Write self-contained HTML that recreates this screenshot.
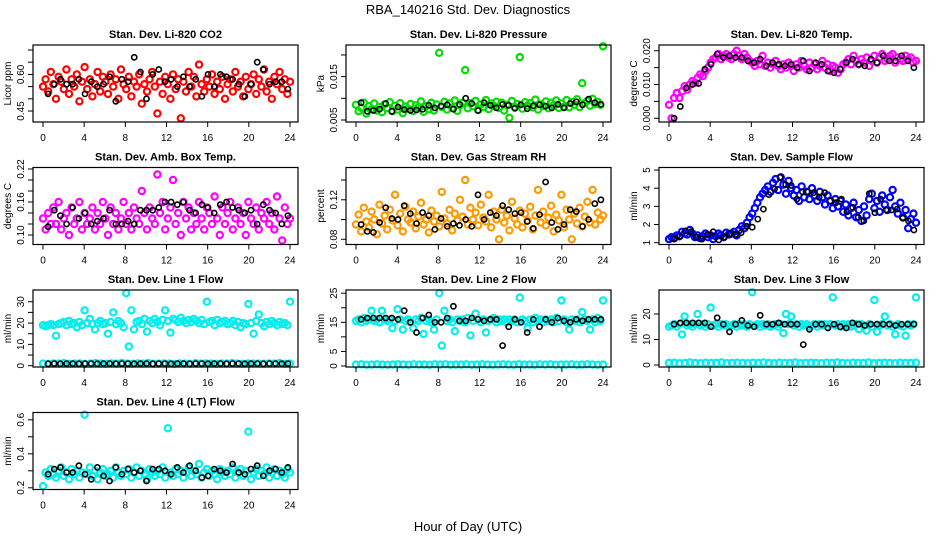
<!DOCTYPE html>
<html><head><meta charset="utf-8"><style>
html,body{margin:0;padding:0;background:#fff;}
svg{display:block;font-family:"Liberation Sans",Arial,sans-serif;}
</style></head><body>
<svg id="chart" width="936" height="540" viewBox="0 0 936 540" xmlns="http://www.w3.org/2000/svg">
<rect width="936" height="540" fill="#fff"/>
<text x="468" y="14" text-anchor="middle" font-size="13">RBA_140216  Std. Dev. Diagnostics</text>
<text x="468" y="531" text-anchor="middle" font-size="13">Hour of Day (UTC)</text>
</svg>
<script>
const xTicks=[0,4,8,12,16,20,24];
const co2Color=[0.55,0.58,0.53,0.61,0.56,0.50,0.59,0.57,0.54,0.62,0.52,0.58,0.55,0.60,0.49,0.57,0.63,0.54,0.58,0.51,0.56,0.61,0.53,0.59,0.57,0.52,0.60,0.55,0.58,0.50,0.62,0.56,0.54,0.59,0.51,0.57,0.55,0.60,0.48,0.56,0.53,0.58,0.61,0.55,0.44,0.57,0.52,0.59,0.56,0.50,0.60,0.54,0.58,0.42,0.57,0.53,0.61,0.55,0.59,0.51,0.64,0.56,0.53,0.58,0.55,0.60,0.52,0.57,0.54,0.59,0.50,0.56,0.58,0.53,0.61,0.55,0.57,0.51,0.59,0.54,0.56,0.60,0.52,0.58,0.55,0.62,0.53,0.57,0.50,0.59,0.56,0.61,0.54,0.58,0.52,0.57];
const co2Black=[0.52,0.56,0.58,0.56,0.56,0.58,0.52,0.57,0.55,0.56,0.59,0.49,0.58,0.57,0.67,0.61,0.50,0.60,0.62,0.57,0.58,0.55,0.59,0.55,0.58,0.51,0.60,0.55,0.60,0.59,0.58,0.56,0.51,0.56,0.65,0.62,0.56,0.57,0.57,0.54];
const presColor=[0.0085,0.0070,0.0078,0.0090,0.0065,0.0082,0.0075,0.0088,0.0072,0.0080,0.0068,0.0086,0.0077,0.0091,0.0070,0.0083,0.0074,0.0089,0.0066,0.0081,0.0076,0.0087,0.0071,0.0084,0.0079,0.0093,0.0069,0.0082,0.0075,0.0090,0.0072,0.0086,0.0205,0.0080,0.0092,0.0074,0.0088,0.0078,0.0095,0.0071,0.0084,0.0090,0.0165,0.0077,0.0089,0.0082,0.0094,0.0073,0.0086,0.0080,0.0096,0.0075,0.0088,0.0083,0.0092,0.0078,0.0090,0.0072,0.0085,0.0055,0.0094,0.0080,0.0087,0.0195,0.0076,0.0091,0.0083,0.0089,0.0079,0.0097,0.0074,0.0086,0.0082,0.0093,0.0077,0.0090,0.0084,0.0095,0.0078,0.0088,0.0081,0.0096,0.0079,0.0091,0.0085,0.0098,0.0080,0.0135,0.0089,0.0094,0.0083,0.0099,0.0087,0.0092,0.0085,0.0220];
const presBlack=[0.0090,0.0070,0.0072,0.0075,0.0088,0.0070,0.0080,0.0074,0.0072,0.0073,0.0075,0.0084,0.0078,0.0082,0.0085,0.0075,0.0086,0.0100,0.0088,0.0072,0.0090,0.0084,0.0078,0.0086,0.0084,0.0077,0.0085,0.0076,0.0083,0.0085,0.0082,0.0078,0.0086,0.0078,0.0088,0.0092,0.0085,0.0098,0.0090,0.0086];
const ltColor=[0.004,0.000,0.006,0.0075,0.006,0.008,0.0095,0.0085,0.010,0.011,0.0105,0.012,0.013,0.0125,0.014,0.015,0.0165,0.0175,0.018,0.019,0.0175,0.0185,0.019,0.018,0.0175,0.019,0.020,0.0185,0.0175,0.019,0.018,0.017,0.0165,0.0155,0.017,0.016,0.0185,0.0155,0.0165,0.015,0.016,0.017,0.0155,0.0145,0.016,0.015,0.0165,0.0155,0.0140,0.0160,0.0150,0.0170,0.0155,0.0145,0.0165,0.0150,0.016,0.0145,0.0155,0.017,0.0150,0.0160,0.0140,0.0155,0.015,0.0135,0.0145,0.016,0.0165,0.0175,0.016,0.0185,0.017,0.0160,0.0175,0.0165,0.018,0.0155,0.017,0.0185,0.0165,0.018,0.019,0.017,0.0175,0.0185,0.019,0.0165,0.018,0.0175,0.017,0.0185,0.0175,0.018,0.0165,0.017];
const ltBlack=[0.000,0.0035,0.009,0.010,0.0103,0.0145,0.016,0.019,0.018,0.0185,0.018,0.018,0.017,0.0165,0.0175,0.0155,0.0165,0.016,0.0155,0.016,0.015,0.017,0.0140,0.0165,0.016,0.0140,0.0135,0.0145,0.0165,0.0175,0.016,0.0155,0.0175,0.0165,0.0185,0.017,0.017,0.0185,0.0170,0.0150];
const boxColor=[0.13,0.11,0.14,0.12,0.15,0.12,0.16,0.11,0.13,0.14,0.10,0.15,0.12,0.13,0.16,0.11,0.14,0.12,0.13,0.15,0.11,0.14,0.12,0.16,0.13,0.10,0.15,0.12,0.14,0.11,0.13,0.16,0.12,0.14,0.11,0.15,0.13,0.12,0.18,0.14,0.11,0.15,0.13,0.12,0.21,0.14,0.16,0.11,0.13,0.15,0.20,0.12,0.14,0.10,0.16,0.13,0.15,0.11,0.14,0.12,0.16,0.13,0.11,0.15,0.14,0.12,0.17,0.13,0.10,0.15,0.12,0.14,0.16,0.11,0.13,0.15,0.12,0.14,0.10,0.16,0.13,0.12,0.15,0.11,0.14,0.13,0.16,0.12,0.14,0.11,0.17,0.13,0.09,0.15,0.12,0.13];
const boxBlack=[0.115,0.145,0.135,0.12,0.15,0.13,0.14,0.12,0.125,0.13,0.145,0.12,0.12,0.125,0.12,0.145,0.145,0.145,0.15,0.16,0.16,0.155,0.16,0.145,0.14,0.155,0.15,0.14,0.155,0.16,0.15,0.145,0.14,0.145,0.12,0.155,0.145,0.14,0.12,0.135];
const rhColor=[0.095,0.105,0.088,0.112,0.098,0.092,0.108,0.100,0.085,0.115,0.096,0.104,0.090,0.110,0.099,0.125,0.094,0.106,0.088,0.113,0.100,0.097,0.108,0.091,0.103,0.117,0.095,0.100,0.087,0.109,0.098,0.104,0.093,0.128,0.101,0.096,0.110,0.089,0.106,0.099,0.120,0.103,0.140,0.095,0.112,0.100,0.107,0.094,0.115,0.102,0.098,0.125,0.092,0.108,0.100,0.080,0.110,0.097,0.104,0.089,0.118,0.101,0.095,0.109,0.092,0.106,0.099,0.113,0.090,0.104,0.130,0.097,0.108,0.094,0.102,0.114,0.088,0.105,0.099,0.125,0.092,0.110,0.100,0.080,0.106,0.096,0.112,0.093,0.103,0.118,0.097,0.130,0.095,0.107,0.100,0.104];
const rhBlack=[0.095,0.088,0.087,0.097,0.112,0.101,0.100,0.114,0.106,0.096,0.107,0.104,0.090,0.101,0.093,0.096,0.094,0.100,0.093,0.125,0.100,0.107,0.104,0.114,0.110,0.106,0.107,0.098,0.091,0.105,0.138,0.097,0.090,0.095,0.110,0.108,0.093,0.100,0.116,0.120];
const flowColor=[1.2,1.3,1.25,1.4,1.35,1.6,1.5,1.45,1.7,1.5,1.3,1.4,1.25,1.35,1.5,1.3,1.4,1.2,1.35,1.5,1.4,1.3,1.55,1.45,1.5,1.6,1.4,1.7,1.9,1.8,2.1,2.4,2.6,2.9,3.2,3.5,3.7,3.9,4.1,3.8,4.3,4.5,3.9,4.6,4.2,3.7,4.4,4.0,3.6,3.9,3.3,4.1,3.5,3.8,3.4,4.0,3.6,3.3,3.8,3.5,3.1,3.6,3.3,2.9,3.4,3.0,3.3,2.7,3.1,2.5,2.9,3.2,2.4,2.8,2.2,3.0,2.5,3.4,3.7,2.9,3.3,2.7,3.6,3.1,2.8,3.5,3.9,3.0,2.6,3.2,2.4,2.8,1.8,2.3,2.6,2.1];
const flowBlack=[1.2,1.35,1.65,1.6,1.3,1.2,1.45,1.6,1.15,1.3,1.5,1.45,1.55,1.9,1.85,2.3,2.85,3.65,3.95,4.6,4.2,4.15,3.4,3.8,3.8,3.75,3.5,3.75,3.3,3.2,3.4,2.7,2.95,2.4,2.2,3.7,2.65,3.4,2.8,2.8,2.85,2.35,2.2,1.7];
const line1Color=[19,18.5,19,19.5,19,14,19.5,20,20.5,19,21,19.5,20,18,20.5,19,26,20,22,19.5,17,20,21,19.5,20,15,20.5,25,19.5,21,20,18,34,9,26,17,20.5,21,19.5,22,16,21,20,22,20.5,19,21.5,26,21,15.5,22,21.5,20.5,22.5,21,20,21.5,20.5,22,21,20,21.5,19.5,30,20.5,21,19,21.5,20,20.5,21,19.5,20,21,19,20.5,18,20,19.5,29,20,15,21,24,20,18.5,20.5,19.5,21,20,19,20.5,19.5,20,19,30];
const line1Low=[1,0.9,1.1,1,1.2,0.9,1,1.1,0.8,1,1.2,1,0.9,1.1,1,1.3,1,0.9,1.1,1,1.2,0.9,1,1.1,1,0.8,1.1,1,0.9,1.2,1,1.1,1,0.9,1.1,1,1.2,1,0.9,1.1,1,1,0.9,1.1,1,1.2,0.9,1];
const line1Black=[0.9,1,0.9,1,1,0.9,1,1,0.9,1,1,0.9,1,1,0.9,1,1,0.9,1,1,0.9,1,1,0.9,1,1,0.9,1,1,0.9,1,1,0.9,1,1,0.9,1,1,0.9,1];
const line2Color=[15.5,16,15,16.5,15.5,16,19,15.5,16,15,19,16,15.5,16,13,15.5,19.5,16,12.5,15.5,16,15,13,16,15.5,16.5,11,15.5,16,15,12.5,16,25,7,19,15.5,16,15,12,16,15.5,16,15,16.5,10.5,15.5,18,16,15,16,11.5,15.5,16,16.5,15,16,15.5,16,15,16,15.5,16,15,23.5,16,15.5,13,16,15,16.5,15.5,16,15,16,15.5,16,15,16.5,15.5,22.5,16,15,12.5,16,15.5,16,15,18.5,16,15.5,12.5,16,15,16.5,15.5,22.5];
const line2Low=[0.5,0.6,0.4,0.5,0.6,0.5,0.4,0.5,0.6,0.5,0.4,0.6,0.5,0.5,0.4,0.6,0.5,0.6,0.4,0.5,0.5,0.6,0.4,0.5,0.6,0.5,0.4,0.5,0.6,0.5,0.4,0.6,0.5,0.5,0.4,0.6,0.5,0.6,0.4,0.5,0.5,0.6,0.4,0.5,0.6,0.5,0.4,0.5];
const line2Black=[16,16.5,16.5,16.5,16.5,16.5,16,19,15,11.5,16.5,17.5,15,15,16.5,20.5,15.5,15.5,16.5,16,15.5,16,16,7,13.5,16,15,11.5,16,13.5,16,15,16.5,15.5,15,16,15.5,16,16,16];
const line3Color=[15,15.5,16,15,16,12,19,15.5,16,15,16,20,15.5,16,15,16,22.5,15.5,16,15,16,15.5,16,15,15.5,16,15,16,15.5,16,15,16,28.5,15.5,16,15,16,15.5,16,15,15.5,16,15,16,12.5,20,16,19,15.5,16,15,16,15.5,16,15,15.5,16,15,16,15.5,16,15,16,26.5,15.5,16,15,16,15.5,16,15,15.5,16,14,16,15.5,13.5,16,15,25.5,13,15.5,16,19,15.5,16,15,12,16,15.5,15,11.5,16,15.5,16,26.5];
const line3Low=[0.8,0.9,0.7,0.8,1,0.8,0.7,0.9,0.8,0.8,1,0.7,0.8,0.9,0.8,0.7,0.9,0.8,1,0.8,0.7,0.9,0.8,0.8,1,0.7,0.8,0.9,0.8,0.7,0.9,0.8,1,0.8,0.7,0.9,0.8,0.8,1,0.7,0.8,0.9,0.8,0.7,0.9,0.8,0.8,0.9];
const line3Black=[16,16.5,16.5,16.5,16.5,16.5,15,18.5,16,13,16,17.5,15.5,15,19.5,16,16,16.5,16,16,16,8,14,16,16,14.5,16,15,14.5,16.5,16,15.5,16,16,16,16,15.5,16,16,16];
const line4Color=[0.21,0.29,0.27,0.31,0.28,0.26,0.30,0.32,0.27,0.29,0.25,0.31,0.28,0.30,0.26,0.29,0.63,0.28,0.32,0.27,0.30,0.25,0.29,0.31,0.27,0.28,0.30,0.26,0.32,0.29,0.27,0.30,0.28,0.31,0.26,0.29,0.32,0.27,0.30,0.28,0.25,0.31,0.29,0.27,0.30,0.28,0.32,0.26,0.55,0.29,0.27,0.31,0.28,0.30,0.26,0.29,0.32,0.27,0.30,0.28,0.34,0.26,0.29,0.31,0.27,0.30,0.28,0.25,0.31,0.29,0.27,0.30,0.28,0.32,0.26,0.29,0.31,0.27,0.30,0.53,0.25,0.29,0.31,0.27,0.30,0.28,0.32,0.26,0.29,0.31,0.27,0.30,0.28,0.26,0.31,0.29];
const line4Black=[0.28,0.31,0.32,0.29,0.29,0.33,0.28,0.25,0.32,0.27,0.24,0.32,0.28,0.31,0.29,0.30,0.24,0.31,0.31,0.30,0.28,0.32,0.29,0.33,0.30,0.26,0.27,0.31,0.30,0.29,0.34,0.29,0.28,0.31,0.33,0.27,0.30,0.31,0.29,0.32];

const panels=[
 {name:'co2',title:'Stan. Dev. Li-820 CO2',ylab:'Licor ppm',col:0,row:0,lo:0.405,hi:0.7205,ticks:[0.45,0.5,0.55,0.6,0.65,0.7],labels:['0.45','','','0.60','',''],series:[[co2Color,'#ff0000',0,24],[co2Black,'#000',0.5,23.8]]},
 {name:'pressure',title:'Stan. Dev. Li-820 Pressure',ylab:'kPa',col:1,row:0,lo:0.00454,hi:0.0223,ticks:[0.005,0.01,0.015,0.02],labels:['0.005','','0.015',''],series:[[presColor,'#00dd00',0,24],[presBlack,'#000',0.5,23.8]]},
 {name:'li820-temp',title:'Stan. Dev. Li-820 Temp.',ylab:'degrees C',col:2,row:0,lo:-0.0011,hi:0.0217,ticks:[0,0.005,0.01,0.015,0.02],labels:['0.000','','0.010','','0.020'],series:[[ltColor,'#ff00ff',0,24],[ltBlack,'#000',0.5,23.8]]},
 {name:'amb-box-temp',title:'Stan. Dev. Amb. Box Temp.',ylab:'degrees C',col:0,row:1,lo:0.0827,hi:0.2227,ticks:[0.1,0.12,0.14,0.16,0.18,0.2,0.22],labels:['0.10','','','0.16','','','0.22'],series:[[boxColor,'#ff00ff',0,24],[boxBlack,'#000',0.5,23.8]]},
 {name:'gas-stream-rh',title:'Stan. Dev. Gas Stream RH',ylab:'percent',col:1,row:1,lo:0.0747,hi:0.1527,ticks:[0.08,0.1,0.12,0.14],labels:['0.08','','0.12',''],series:[[rhColor,'#ff9900',0,24],[rhBlack,'#000',0.5,23.8]]},
 {name:'sample-flow',title:'Stan. Dev. Sample Flow',ylab:'ml/min',col:2,row:1,lo:0.9,hi:5.14,ticks:[1,2,3,4,5],labels:['1','2','3','4','5'],series:[[flowColor,'#0000ff',0,24],[flowBlack,'#000',0.5,23.8]]},
 {name:'line1-flow',title:'Stan. Dev. Line 1 Flow',ylab:'ml/min',col:0,row:2,lo:-0.61,hi:35.5,ticks:[0,5,10,15,20,25,30],labels:['0','','10','','20','','30'],series:[[line1Color,'#00eeee',0,24],[line1Low,'#00eeee',0,24],[line1Black,'#000',0.5,23.8]]},
 {name:'line2-flow',title:'Stan. Dev. Line 2 Flow',ylab:'ml/min',col:1,row:2,lo:-0.34,hi:26.1,ticks:[0,5,10,15,20,25],labels:['0','5','','15','','25'],series:[[line2Color,'#00eeee',0,24],[line2Low,'#00eeee',0,24],[line2Black,'#000',0.5,23.8]]},
 {name:'line3-flow',title:'Stan. Dev. Line 3 Flow',ylab:'ml/min',col:2,row:2,lo:-0.78,hi:29.4,ticks:[0,10,20],labels:['0','10','20'],series:[[line3Color,'#00eeee',0,24],[line3Low,'#00eeee',0,24],[line3Black,'#000',0.5,23.8]]},
 {name:'line4-flow',title:'Stan. Dev. Line 4 (LT) Flow',ylab:'ml/min',col:0,row:3,lo:0.19,hi:0.643,ticks:[0.2,0.3,0.4,0.5,0.6],labels:['0.2','','0.4','','0.6'],series:[[line4Color,'#00eeee',0,24],[line4Black,'#000',0.5,23.8]]}
];
const NS='http://www.w3.org/2000/svg';
const svg=document.getElementById('chart');
function mk(tag,attrs,parent){const e=document.createElementNS(NS,tag);for(const k in attrs)e.setAttribute(k,attrs[k]);parent.appendChild(e);return e;}
panels.forEach(p=>{
  const L=33+313*p.col, T=45+122.5*p.row, W=265, H=77;
  const xs=t=>L+10+t*(247/24);
  const ys=v=>T+H-(v-p.lo)/(p.hi-p.lo)*H;
  const g=mk('g',{},svg);
  
  
  const tt=mk('text',{x:L+W/2,y:T-7,'text-anchor':'middle','font-size':11,'font-weight':'bold'},g);
  tt.textContent=p.title;
  
  
  p.series.forEach((s,si)=>{
    const isBlack=(s[1]==='#000');
    const sg=mk('g',{fill:'none',stroke:s[1],'stroke-width':isBlack?1.6:2.2},g);
    
    
    const arr=s[0], n=arr.length;
    arr.forEach((v,i)=>{
      const t=s[2]+(n>1?i*(s[3]-s[2])/(n-1):0);
      const c=mk('circle',{cx:xs(t).toFixed(1),cy:ys(v).toFixed(1),r:isBlack?2.6:3.1},sg);
      
      
    });
  });
  const box=mk('rect',{x:L,y:T,width:W,height:H,fill:'none',stroke:'#000','stroke-width':1.2},g);
  
  
  const xa=mk('g',{stroke:'#000','stroke-width':1},g);
  
  
  mk('line',{x1:xs(0),x2:xs(24),y1:T+H,y2:T+H},xa);
  xTicks.forEach(t=>{
    mk('line',{x1:xs(t),x2:xs(t),y1:T+H,y2:T+H+5},xa);
    const lb=mk('text',{x:xs(t),y:T+H+19,'text-anchor':'middle','font-size':10,stroke:'none',fill:'#000'},xa);
    lb.textContent=t;
    
    
  });
  const ya=mk('g',{stroke:'#000','stroke-width':1},g);
  
  
  mk('line',{x1:L,x2:L,y1:ys(p.ticks[0]),y2:ys(p.ticks[p.ticks.length-1])},ya);
  p.ticks.forEach((v,i)=>{
    const y=ys(v);
    mk('line',{x1:L-5,x2:L,y1:y,y2:y},ya);
    if(p.labels[i]){
      const lb=mk('text',{x:0,y:0,'text-anchor':'middle','font-size':10,stroke:'none',fill:'#000',transform:`translate(${L-9},${y}) rotate(-90)`},ya);
      lb.textContent=p.labels[i];
      
      
    }
  });
  const yl=mk('text',{x:0,y:0,'text-anchor':'middle','font-size':10,transform:`translate(${L-22},${T+H/2}) rotate(-90)`},g);
  yl.textContent=p.ylab;
  
  
});
</script>
</body></html>
